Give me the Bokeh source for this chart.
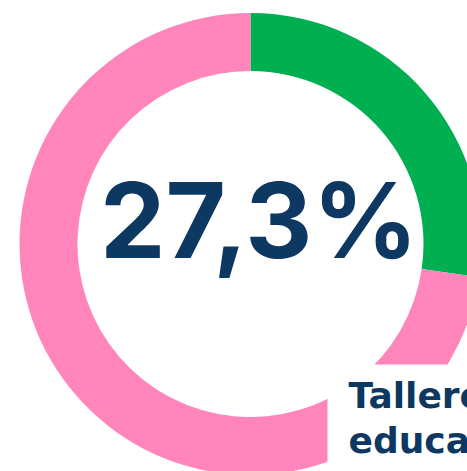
import numpy as np
from bokeh.plotting import figure
from bokeh.models import Range1d, ColumnDataSource
from bokeh.core.properties import value
from bokeh.embed import file_html
from bokeh.resources import INLINE

categories = ["Talleres educativos", "Otros"]
values = [27.3, 72.7]
colors = ["#00AF50", "#FF85BA"]
center_label = "27,3%"
label_lines = ["Talleres", "educativos"]

W, H = 467, 471
# data units = pixels, origin at the donut centre
p = figure(width=W, height=H, output_backend="svg", toolbar_location=None,
           x_range=Range1d(-250, 217), y_range=Range1d(-227.5, 243.5),
           min_border=0, outline_line_color=None)
p.axis.visible = False
p.grid.visible = False
p.background_fill_color = "white"
p.border_fill_color = "white"

fr = np.array(values) / sum(values)
cum = np.concatenate([[0], np.cumsum(fr)])
start = np.pi / 2 - 2 * np.pi * cum[:-1]
end = np.pi / 2 - 2 * np.pi * cum[1:]
src = ColumnDataSource(dict(start=start, end=end, color=colors, cat=categories))
p.annular_wedge(x=0, y=0, inner_radius=173, outer_radius=231,
                start_angle="start", end_angle="end", direction="clock",
                color="color", line_color=None, source=src)

p.text(x=[8.5], y=[23.7], text=[center_label], text_align="center",
       text_baseline="alphabetic", text_font=value("Inter"),
       text_font_style="bold", text_font_size="104px", text_color="#0D3862")

# label box
p.quad(left=[77], right=[300], top=[-120.5], bottom=[-300], color="white", line_color=None)
p.text(x=[98, 98], y=[-151.5, -196.2], text=label_lines, text_align="left",
       text_baseline="alphabetic", text_font=value("DejaVu Sans"),
       text_font_style="bold", text_font_size="36px", text_color="#0D3862")

open("out.html", "w").write(file_html(p, INLINE))
